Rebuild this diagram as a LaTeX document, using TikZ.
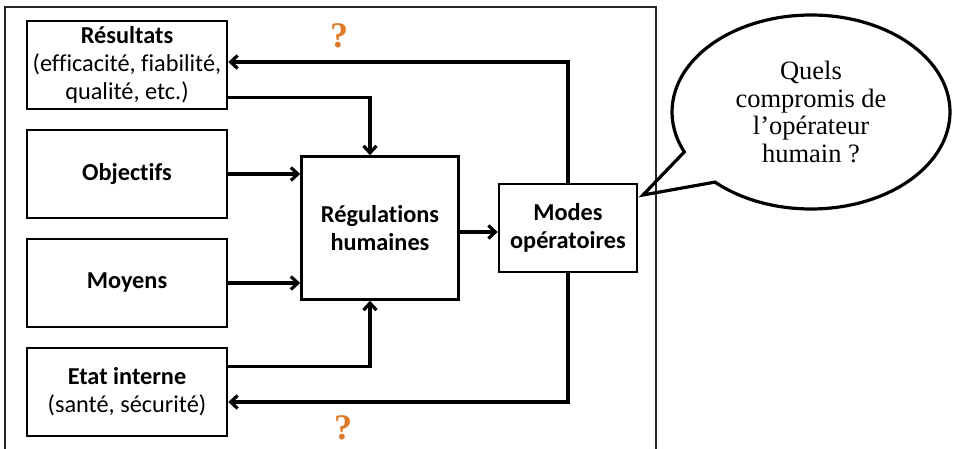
\documentclass[tikz,border=0pt]{standalone}
\usepackage{fontspec}
\setmainfont{Carlito}[Ligatures=NoCommon]
\newfontfamily\bubblefont{Liberation Serif}
\usetikzlibrary{arrows.meta,shapes.callouts,positioning}
\definecolor{qorange}{RGB}{222,122,40}
\tikzstyle{frame} = [draw=black!85, line width=1.2pt]
\tikzstyle{block} = [draw, rectangle, line width=2.6pt, minimum height=88pt, minimum width=200pt, align=center, inner sep=2pt, font=\fontsize{24.3}{28}\selectfont]
\tikzstyle{bigblock} = [block, minimum height=143pt, minimum width=157pt]
\tikzstyle{modeblock} = [block, minimum height=88pt, minimum width=138pt]
\tikzstyle{query} = [text=qorange, font=\bubblefont\bfseries\fontsize{36}{36}\selectfont]
\tikzstyle{bubble} = [draw, ellipse callout, line width=3.2pt, minimum width=278pt, minimum height=194pt, callout pointer arc=22, align=center, font=\bubblefont\fontsize{26.5}{27.5}\selectfont]
\tikzstyle{link} = [line width=3.2pt, -{Straight Barb[length=7pt,width=13pt]}]

\begin{document}
\begin{tikzpicture}[x=1pt, y=-1pt, auto, node distance=109pt]
		\useasboundingbox (0,0) rectangle (955,449);
		\draw [frame] (5,7) rectangle (656,460);

		\node [block] (res) at (127,65) {\textbf{Résultats}\\(efficacité, fiabilité,\\qualité, etc.)};
		\node [block, below of=res] (obj) {\textbf{Objectifs}};
		\node [block, below of=obj] (moy) {\textbf{Moyens}};
		\node [block, below of=moy] (etat) {\textbf{Etat interne}\\(santé, sécurité)};
		\node [bigblock] (reg) at (380,228) {\textbf{Régulations}\\\textbf{humaines}};
		\node [modeblock, right of=reg, node distance=188pt] (modes) {\textbf{Modes}\\\textbf{opératoires}};
		\coordinate (tip) at (643,195);
		\node [bubble, callout absolute pointer=(tip)] (bubble) at (811,112) {Quels\\compromis de\\l’opérateur\\humain ?};
		\node [query] (q1) at (339,36) {?};
		\node [query] (q2) at (343,428) {?};

		\draw [link] (modes.north) |- ([yshift=3pt]res.east);
		\draw [link] ([yshift=13pt]res.south east) -| ([xshift=-10pt]reg.north);
		\draw [link] (obj.east) -- (obj.east -| reg.west);
		\draw [link] (moy.east) -- (moy.east -| reg.west);
		\draw [link] ([yshift=-20pt]etat.north east) -| ([xshift=-10pt]reg.south);
		\draw [link] ([yshift=-4pt]reg.east) -- ([yshift=-4pt]reg.east -| modes.west);
		\draw [link] (modes.south) |- ([yshift=-10pt]etat.east);
	\end{tikzpicture}
\end{document}
